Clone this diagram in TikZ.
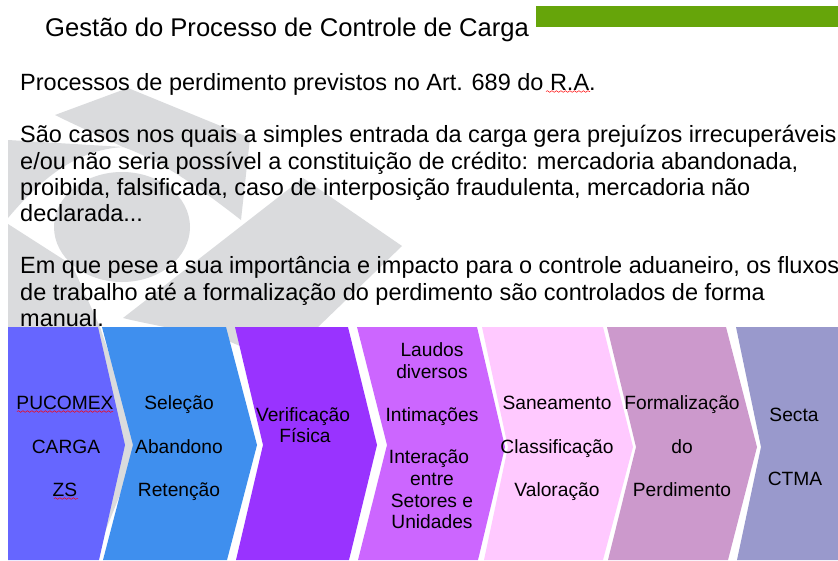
\documentclass[tikz,border=0pt]{standalone}
\usepackage{fontspec}
\setmainfont{Liberation Sans}
\usetikzlibrary{decorations.pathmorphing}
\definecolor{emblem}{HTML}{DADBDD}
\definecolor{barc}{HTML}{66A50A}
\definecolor{cha}{HTML}{6666FF}
\definecolor{chb}{HTML}{3F8FEE}
\definecolor{chc}{HTML}{9933FF}
\definecolor{chd}{HTML}{CC66FF}
\definecolor{che}{HTML}{FFC9FF}
\definecolor{chf}{HTML}{CC99CC}
\definecolor{chg}{HTML}{9999CC}
\tikzset{
  titletext/.style={anchor=base west,inner sep=0pt,font=\fontsize{25.6}{28}\selectfont},
  bodytext/.style={anchor=base west,inner sep=0pt,font=\fontsize{23.5}{26}\selectfont},
  chevtext/.style={anchor=base,inner sep=0pt,font=\fontsize{19.2}{22}\selectfont},
  spell/.style={draw=red,line width=0.5pt,decorate,decoration={snake,amplitude=0.8pt,segment length=4.5pt}}
}
\begin{document}
\begin{tikzpicture}[x=1pt,y=-1pt]
\useasboundingbox (0,0) rectangle (838,560);
\fill[white] (0,0) rectangle (838,560);
% emblem
\fill[emblem] (55,115) -- (128,88) -- (250,138) -- (241,220)
  .. controls (200,188) and (160,160) .. (123,147) .. controls (100,136) and (75,125) .. (55,115) -- cycle;
\fill[emblem] (8,140) -- (123,147) .. controls (75,150) and (40,180) .. (8,218) -- cycle;
\fill[emblem] (122,227) ellipse [x radius=68,y radius=55];
\fill[emblem] (8,224) -- (72,265) -- (100,327) -- (140,445) -- (105,532) -- (8,532) -- cycle;
\fill[emblem] (303,178) -- (402,246) -- (318,327) -- (240,346) -- (226,340) -- (215,330) -- (165,327) .. controls (150,324) and (135,321) .. (123,318) -- cycle;
% green bar
\fill[barc] (536,6) rectangle (838,27);
% chevrons
\fill[cha] (8,327) -- (98,327) -- (125,445) -- (99,560) -- (8,560) -- cycle;
\fill[chb] (102,327) -- (226,327) -- (257,445) -- (227,560) -- (103,560) -- (133,445) -- cycle;
\fill[chc] (235,327) -- (348,327) -- (377,445) -- (349,560) -- (236,560) -- (263,445) -- cycle;
\fill[chd] (357,327) -- (477,327) -- (505,447) -- (478,560) -- (358,560) -- (387,445) -- cycle;
\fill[che] (482,327) -- (603,327) -- (633,447) -- (603,560) -- (484,560) -- (508,447) -- cycle;
\fill[chf] (607,327) -- (726,327) -- (757,447) -- (728,560) -- (608,560) -- (636,447) -- cycle;
\fill[chg] (736,327) -- (838,327) -- (838,560) -- (737,560) -- (761,447) -- cycle;
% texts
\node[titletext] (title) at (45,36) {Gestão do Processo de Controle de Carga};
\node[bodytext] (l1) at (20,90) {Processos de perdimento previstos no Art. 689 do R.A.};
\node[bodytext] (l2) at (20,142.5) {São casos nos quais a simples entrada da carga gera prejuízos irrecuperáveis};
\node[bodytext] (l3) at (20,169) {e/ou não seria possível a constituição de crédito: mercadoria abandonada,};
\node[bodytext] (l4) at (20,195) {proibida, falsificada, caso de interposição fraudulenta, mercadoria não};
\node[bodytext] (l5) at (20,221) {declarada...};
\node[bodytext] (l6) at (20,273) {Em que pese a sua importância e impacto para o controle aduaneiro, os fluxos};
\node[bodytext] (l7) at (20,300) {de trabalho até a formalização do perdimento são controlados de forma};
\node[bodytext] (l8) at (20,326) {manual.};
\draw[spell] (546,91.5) -- (590,91.5);
% chevron texts
\node[chevtext] (a1) at (65,409.5) {PUCOMEX};
\node[chevtext] (a2) at (66,453) {CARGA};
\node[chevtext] (a3) at (65,496) {ZS};
\draw[spell] (17,411.5) -- (113,411.5);
\draw[spell] (54,498.5) -- (78,498.5);
\node[chevtext] (b1) at (179,409.5) {Seleção};
\node[chevtext] (b2) at (179,453) {Abandono};
\node[chevtext] (b3) at (179,496) {Retenção};
\node[chevtext] (c1) at (303,421) {Verificação};
\node[chevtext] (c2) at (305,442) {Física};
\node[chevtext] (d1) at (432,356) {Laudos};
\node[chevtext] (d2) at (432,378) {diversos};
\node[chevtext] (d3) at (432,421) {Intimações};
\node[chevtext] (d4) at (429,463) {Interação};
\node[chevtext] (d5) at (432,485) {entre};
\node[chevtext] (d6) at (432,507) {Setores e};
\node[chevtext] (d7) at (432,528) {Unidades};
\node[chevtext] (e1) at (557,409.5) {Saneamento};
\node[chevtext] (e2) at (557,453) {Classificação};
\node[chevtext] (e3) at (557,496) {Valoração};
\node[chevtext] (f1) at (682,409.5) {Formalização};
\node[chevtext] (f2) at (682,453) {do};
\node[chevtext] (f3) at (682,496) {Perdimento};
\node[chevtext] (g1) at (794,421) {Secta};
\node[chevtext] (g2) at (795,485) {CTMA};
\end{tikzpicture}
\end{document}
